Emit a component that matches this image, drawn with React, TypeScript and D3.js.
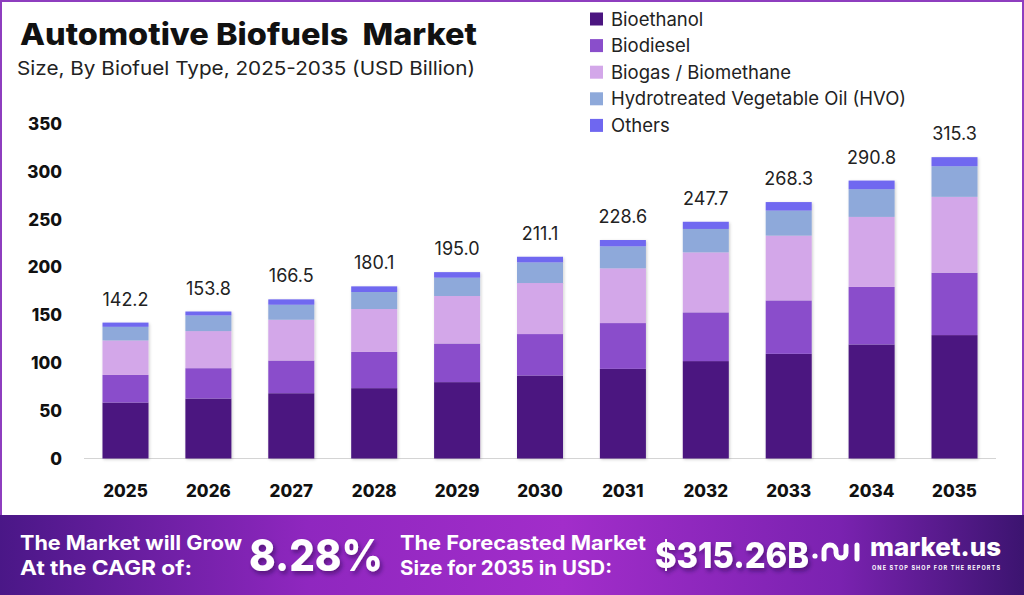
import * as d3 from "d3";

// Market size by biofuel type, USD billion
const years = ["2025", "2026", "2027", "2028", "2029", "2030", "2031", "2032", "2033", "2034", "2035"];
const bioethanol = [58.5, 62.7, 68.3, 73.6, 79.9, 86.8, 93.8, 101.9, 109.5, 119.3, 129.1];
const biodiesel = [29.0, 31.8, 34.2, 38.0, 40.4, 43.4, 47.9, 51.0, 55.9, 60.2, 65.3];
const biogas = [36.0, 38.8, 42.7, 44.8, 49.7, 53.4, 57.3, 62.8, 67.8, 73.3, 79.4];
const hvo = [14.3, 16.4, 15.7, 17.8, 19.2, 21.6, 23.0, 24.5, 26.2, 29.0, 32.0];
const others = [4.4, 4.1, 5.6, 5.9, 5.8, 5.9, 6.6, 7.5, 8.9, 9.0, 9.5];

const seriesNames = [
  "Bioethanol",
  "Biodiesel",
  "Biogas / Biomethane",
  "Hydrotreated Vegetable Oil (HVO)",
  "Others",
];
const seriesValues = [bioethanol, biodiesel, biogas, hvo, others];
const colors = ["#4b1580", "#8a4ecb", "#d3a7e9", "#8ea9da", "#6f67f0"];
const yTicks = [0, 50, 100, 150, 200, 250, 300, 350];

const W = 1024;
const H = 595;
const FONT = "Inter, 'Noto Sans', sans-serif";

type Row = { year: string; [k: string]: number | string };

export default function App() {
  const rows: Row[] = years.map((year, i) => {
    const r: Row = { year };
    seriesNames.forEach((s, j) => (r[s] = seriesValues[j][i]));
    return r;
  });

  const stacked = d3.stack<Row>().keys(seriesNames).value((d, k) => d[k] as number)(rows);
  const totals = years.map((_, i) => d3.sum(seriesValues, (s) => s[i]));

  const x = d3
    .scaleBand<string>()
    .domain(years)
    .range([84, 996])
    .paddingInner(0.445)
    .paddingOuter(0.223);

  const y = d3.scaleLinear().domain([0, 350]).range([458.5, 124]);
  const color = d3.scaleOrdinal<string, string>().domain(seriesNames).range(colors);

  return (
    <svg
      width={W}
      height={H}
      style={{ position: "absolute", left: 0, top: 0, fontFamily: FONT }}
    >
      <defs>
        <linearGradient id="band" x1="0" x2="1" y1="0" y2="0">
          <stop offset="0" stopColor="#4a1787" />
          <stop offset="0.3" stopColor="#8f27bf" />
          <stop offset="0.55" stopColor="#a22dca" />
          <stop offset="0.82" stopColor="#7a22b0" />
          <stop offset="1" stopColor="#3c1470" />
        </linearGradient>
        <filter id="barShadow" x="-10%" y="-10%" width="130%" height="130%">
          <feDropShadow dx="1" dy="1" stdDeviation="1.5" floodColor="#000" floodOpacity="0.2" />
        </filter>
        <filter id="txtShadow" x="-10%" y="-20%" width="130%" height="150%">
          <feDropShadow dx="2" dy="3" stdDeviation="2" floodColor="#1a0030" floodOpacity="0.45" />
        </filter>
      </defs>

      {/* page background and frame */}
      <rect x={0} y={0} width={W} height={H} fill="#ffffff" />
      <rect x={1} y={1} width={W - 2} height={H - 2} fill="none" stroke="#8e3dbf" strokeWidth={2} />

      {/* title */}
      <text
        x={20}
        y={45}
        fontSize={30}
        fontWeight={800}
        fill="#111"
        textLength={457}
        lengthAdjust="spacingAndGlyphs"
        style={{ whiteSpace: "pre" }}
      >
        {"Automotive Biofuels  Market"}
      </text>
      <text
        x={17}
        y={75}
        fontSize={19}
        fill="#222"
        textLength={458}
        lengthAdjust="spacingAndGlyphs"
      >
        Size, By Biofuel Type, 2025-2035 (USD Billion)
      </text>

      {/* legend */}
      <g>
        {seriesNames.map((s, i) => {
          const cy = 19 + i * 26.6;
          return (
            <g key={s}>
              <rect x={590} y={cy - 6.5} width={13} height={13} fill={color(s)} />
              <text x={611} y={cy + 6.5} fontSize={18.5} fill="#222">
                {s}
              </text>
            </g>
          );
        })}
      </g>

      {/* y axis labels */}
      {yTicks.map((t) => (
        <text
          key={t}
          x={62}
          y={y(t)}
          dy="0.36em"
          textAnchor="end"
          fontSize={17}
          fontWeight={800}
          fill="#111"
        >
          {t}
        </text>
      ))}

      {/* baseline */}
      <line x1={84} x2={996} y1={y(0)} y2={y(0)} stroke="#d4d4d4" strokeWidth={1.2} />

      {/* stacked bars */}
      <g filter="url(#barShadow)">
        {stacked.map((layer) => (
          <g key={layer.key} fill={color(layer.key)}>
            {layer.map((d) => (
              <rect
                key={d.data.year as string}
                x={x(d.data.year as string)}
                y={y(d[1])}
                width={x.bandwidth()}
                height={y(d[0]) - y(d[1])}
              />
            ))}
          </g>
        ))}
      </g>

      {/* totals */}
      {years.map((yr, i) => (
        <text
          key={yr}
          x={(x(yr) as number) + x.bandwidth() / 2}
          y={y(totals[i]) - 17}
          textAnchor="middle"
          fontSize={18}
          fill="#222"
        >
          {totals[i].toFixed(1)}
        </text>
      ))}

      {/* x axis labels */}
      {years.map((yr) => (
        <text
          key={yr}
          x={(x(yr) as number) + x.bandwidth() / 2}
          y={497}
          textAnchor="middle"
          fontSize={17}
          fontWeight={800}
          fill="#111"
        >
          {yr}
        </text>
      ))}

      {/* footer band */}
      <rect x={0} y={515} width={W} height={H - 515} fill="url(#band)" />
      <g fill="#fff" fontWeight={700}>
        <text x={20} y={550} fontSize={20} textLength={222} lengthAdjust="spacingAndGlyphs">
          The Market will Grow
        </text>
        <text x={20} y={575} fontSize={20} textLength={172} lengthAdjust="spacingAndGlyphs">
          At the CAGR of:
        </text>
        <text
          x={249}
          y={571}
          fontSize={44}
          fontWeight={800}
          filter="url(#txtShadow)"
          textLength={134}
          lengthAdjust="spacingAndGlyphs"
        >
          8.28%
        </text>
        <text x={400} y={550} fontSize={20} textLength={246} lengthAdjust="spacingAndGlyphs">
          The Forecasted Market
        </text>
        <text x={400} y={575} fontSize={20} textLength={212} lengthAdjust="spacingAndGlyphs">
          Size for 2035 in USD:
        </text>
        <text
          x={655}
          y={568}
          fontSize={36}
          fontWeight={800}
          filter="url(#txtShadow)"
          textLength={154}
          lengthAdjust="spacingAndGlyphs"
        >
          $315.26B
        </text>
      </g>

      {/* market.us logo */}
      <g stroke="#fff" strokeWidth={5} strokeLinecap="round" fill="none">
        <path d="M824 559 L824 551 A6 6 0 0 1 836 551 L836 553 A5 5 0 0 0 846 553 L846 546" />
        <path d="M857 545 L857 559" />
      </g>
      <circle cx={815} cy={556} r={2.6} fill="#fff" />
      <text
        x={870}
        y={556}
        fontSize={26}
        fontWeight={800}
        fill="#fff"
        textLength={131}
        lengthAdjust="spacingAndGlyphs"
      >
        market.us
      </text>
      <text
        x={872}
        y={570}
        fontSize={5.5}
        fontWeight={700}
        fill="#fff"
        textLength={128}
        lengthAdjust="spacing"
      >
        ONE STOP SHOP FOR THE REPORTS
      </text>
    </svg>
  );
}
